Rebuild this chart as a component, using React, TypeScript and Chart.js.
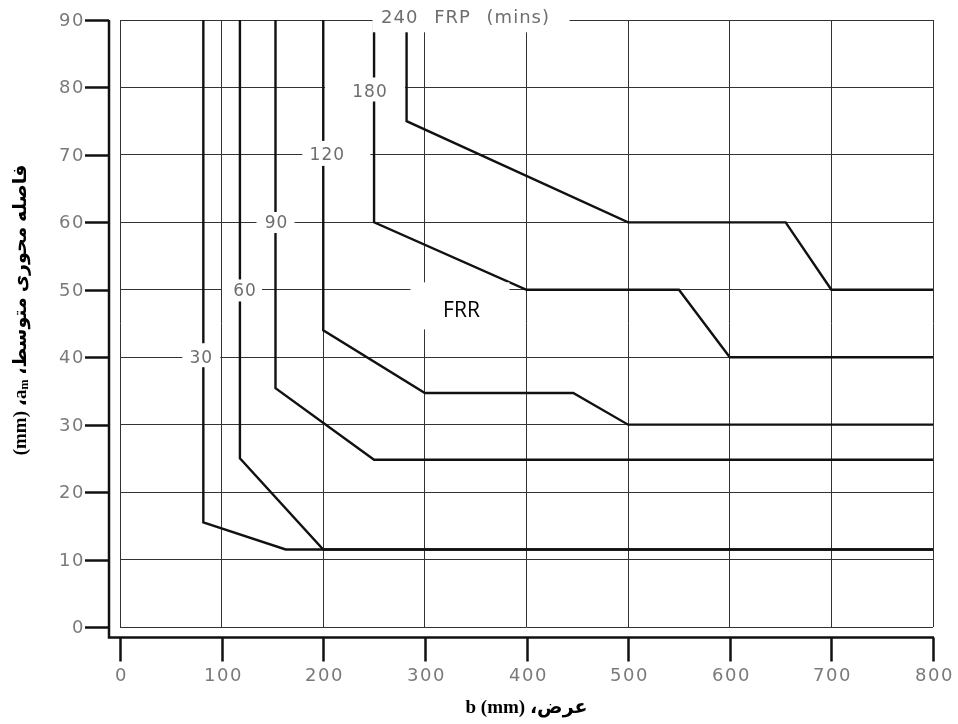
import React, { useEffect, useRef } from 'react';
import { Chart, registerables } from 'chart.js';

Chart.register(...registerables);

// ---- Data (mm) ----
const X_MIN = 0, X_MAX = 800, X_STEP = 100;
const Y_MIN = 0, Y_MAX = 90, Y_STEP = 10;

const FRR30_X = [82, 82, 163, 800];
const FRR30_Y = [90, 15.5, 11.5, 11.5];

const FRR60_X = [118, 118, 200, 800];
const FRR60_Y = [90, 25, 11.5, 11.5];

const FRR90_X = [153, 153, 250, 800];
const FRR90_Y = [90, 35.4, 24.8, 24.8];

const FRR120_X = [200, 200, 300, 446, 500, 800];
const FRR120_Y = [90, 44, 34.7, 34.7, 30, 30];

const FRR180_X = [250, 250, 400, 550, 600, 800];
const FRR180_Y = [90, 60, 50, 50, 40, 40];

const FRR240_X = [282, 282, 500, 655, 700, 800];
const FRR240_Y = [90, 75, 60, 60, 50, 50];

const CURVES = [
  { label: '30', xs: FRR30_X, ys: FRR30_Y },
  { label: '60', xs: FRR60_X, ys: FRR60_Y },
  { label: '90', xs: FRR90_X, ys: FRR90_Y },
  { label: '120', xs: FRR120_X, ys: FRR120_Y },
  { label: '180', xs: FRR180_X, ys: FRR180_Y },
  { label: '240', xs: FRR240_X, ys: FRR240_Y },
];

// curve annotations (anchor in data units)
const LABEL_TEXT = ['240 FRP (mins)', '180', '120', '90', '60', '30'];
const LABEL_X = [340, 246, 204, 154, 123, 80];
const LABEL_Y = [90.4, 79.4, 70, 59.9, 49.9, 40];
const FRR_TEXT = 'FRR';
const FRR_X = 336;
const FRR_Y = 46.8;

const X_TITLE = 'b (mm) ،عرض';
const Y_TITLE_PARTS = ['(mm) ،', 'a', 'm', ' ،فاصله محوری متوسط'];

// ---- Styles (pixels) ----
const LABEL_BOX = [
  [-93, 104, -13, 15],
  [-45, 35, -14, 10],
  [-25, 43, -14, 11],
  [-20, 18, -11, 10],
  [-23, 17, -11, 11],
  [-19, 19, -14, 10],
];
const FRR_BOX = [-51, 48, -29, 18];

const GRAY_FONT = "17px 'DejaVu Sans', sans-serif";
const TOP_FONT = "18px 'DejaVu Sans', sans-serif";
const TICK_FONT = "18px 'DejaVu Sans', sans-serif";
const TITLE_FONT = "bold 19px 'Liberation Serif', 'DejaVu Sans', serif";
const SUB_FONT = "bold 12px 'Liberation Serif', serif";

const decorPlugin = {
  id: 'decor',
  afterDraw(chart: any) {
    const { ctx, chartArea: a, scales } = chart;
    const xs = scales.x, ys = scales.y;
    ctx.save();

    // curve labels with white backgrounds
    LABEL_TEXT.forEach((t, i) => {
      const px = xs.getPixelForValue(LABEL_X[i]);
      const py = ys.getPixelForValue(LABEL_Y[i]);
      const b = LABEL_BOX[i];
      ctx.fillStyle = '#ffffff';
      ctx.fillRect(px + b[0], py + b[2], b[1] - b[0], b[3] - b[2]);
      ctx.fillStyle = '#6e6e6e';
      ctx.font = i === 0 ? TOP_FONT : GRAY_FONT;
      (ctx as any).letterSpacing = '1px';
      (ctx as any).wordSpacing = i === 0 ? '9px' : '0px';
      ctx.textAlign = 'center';
      ctx.textBaseline = 'middle';
      ctx.fillText(t, px, py + 1);
    });
    (ctx as any).letterSpacing = '0px';
    (ctx as any).wordSpacing = '0px';

    // FRR label
    {
      const px = xs.getPixelForValue(FRR_X);
      const py = ys.getPixelForValue(FRR_Y);
      const b = FRR_BOX;
      ctx.fillStyle = '#ffffff';
      ctx.fillRect(px + b[0], py + b[2], b[1] - b[0], b[3] - b[2]);
      ctx.fillStyle = '#000000';
      ctx.font = "21px 'Open Sans', sans-serif";
      ctx.textAlign = 'center';
      ctx.textBaseline = 'middle';
      ctx.fillText(FRR_TEXT, px, py);
    }

    // detached axes
    const axX = a.left - 11;
    const axY = a.bottom + 10.5;
    ctx.strokeStyle = '#111';
    ctx.lineWidth = 2.5;
    ctx.beginPath();
    ctx.moveTo(axX, ys.getPixelForValue(Y_MAX));
    ctx.lineTo(axX, axY);
    ctx.lineTo(xs.getPixelForValue(X_MAX) + 1, axY);
    ctx.stroke();

    ctx.lineWidth = 2.5;
    ctx.font = TICK_FONT;
    (ctx as any).letterSpacing = '1.5px';
    ctx.fillStyle = '#7a7a7a';
    // y ticks
    ys.ticks.forEach((t: any) => {
      const py = Math.round(ys.getPixelForValue(t.value)) + 0.5;
      ctx.beginPath();
      ctx.moveTo(axX - 24, py);
      ctx.lineTo(axX, py);
      ctx.stroke();
      ctx.textAlign = 'right';
      ctx.textBaseline = 'middle';
      ctx.fillText(String(t.value), axX - 24, py + 1);
    });
    // x ticks
    xs.ticks.forEach((t: any) => {
      const px = Math.round(xs.getPixelForValue(t.value)) + 0.5;
      ctx.beginPath();
      ctx.moveTo(px, axY);
      ctx.lineTo(px, axY + 24);
      ctx.stroke();
      ctx.textAlign = 'center';
      ctx.textBaseline = 'middle';
      ctx.fillText(String(t.value), px + 1, axY + 39);
    });
    (ctx as any).letterSpacing = '0px';

    // x title
    ctx.fillStyle = '#000';
    ctx.font = TITLE_FONT;
    ctx.textAlign = 'center';
    ctx.textBaseline = 'middle';
    ctx.fillText(X_TITLE, (a.left + a.right) / 2, 708);

    // y title (rotated, drawn in segments for the subscript)
    ctx.save();
    ctx.translate(21, 310);
    ctx.rotate(-Math.PI / 2);
    ctx.textAlign = 'left';
    ctx.textBaseline = 'middle';
    const fonts = [TITLE_FONT, TITLE_FONT, SUB_FONT, TITLE_FONT];
    const dys = [0, 0, 4, 0];
    let total = 0;
    const widths = Y_TITLE_PARTS.map((p, i) => {
      ctx.font = fonts[i];
      const w = ctx.measureText(p).width;
      total += w;
      return w;
    });
    let cx = -total / 2;
    Y_TITLE_PARTS.forEach((p, i) => {
      ctx.font = fonts[i];
      ctx.fillText(p, cx, dys[i]);
      cx += widths[i];
    });
    ctx.restore();

    ctx.restore();
  },
};

export default function App() {
  const ref = useRef<HTMLCanvasElement>(null);

  useEffect(() => {
    document.body.style.margin = '0';
    if (!ref.current) return;
    const chart = new Chart(ref.current, {
      type: 'line',
      data: {
        datasets: CURVES.map((c) => ({
          label: c.label,
          data: c.xs.map((x, i) => ({ x, y: c.ys[i] })),
          borderColor: '#111111',
          borderWidth: 2.4,
          pointRadius: 0,
          tension: 0,
          fill: false,
        })),
      },
      options: {
        animation: false,
        responsive: false,
        layout: { padding: { left: 120, right: 25, top: 20, bottom: 97 } },
        plugins: { legend: { display: false }, tooltip: { enabled: false } },
        scales: {
          x: {
            type: 'linear',
            min: X_MIN,
            max: X_MAX,
            ticks: { display: false, stepSize: X_STEP },
            grid: { color: '#333333', lineWidth: 1, drawTicks: false },
            border: { display: false },
          },
          y: {
            type: 'linear',
            min: Y_MIN,
            max: Y_MAX,
            ticks: { display: false, stepSize: Y_STEP },
            grid: { color: '#333333', lineWidth: 1, drawTicks: false },
            border: { display: false },
          },
        },
      },
      plugins: [decorPlugin],
    });
    return () => chart.destroy();
  }, []);

  return (
    <div style={{ width: 958, height: 724 }}>
      <canvas ref={ref} width={958} height={724} />
    </div>
  );
}
